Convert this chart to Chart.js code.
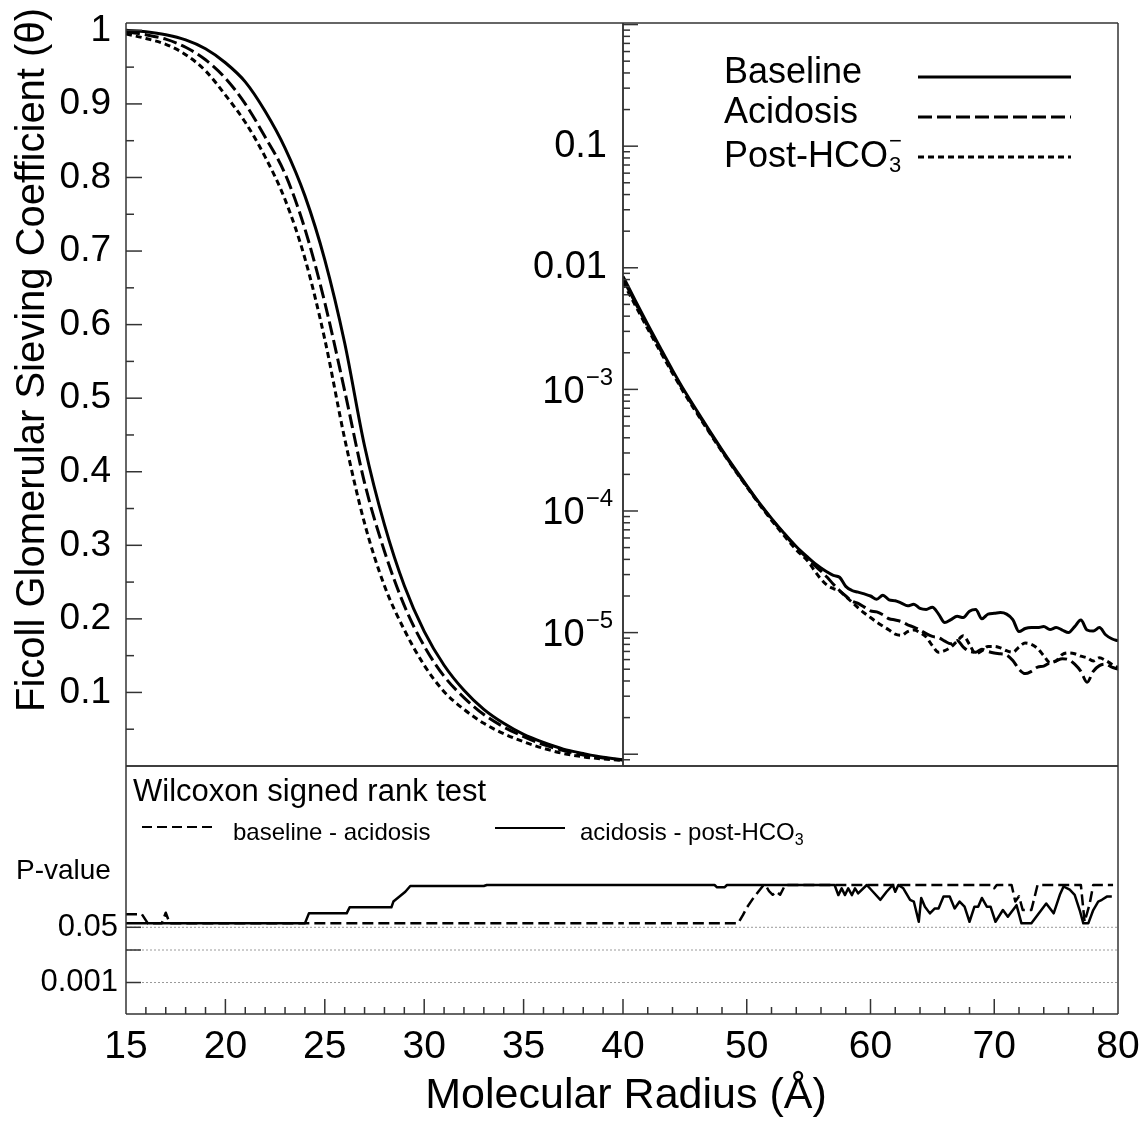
<!DOCTYPE html>
<html>
<head>
<meta charset="utf-8">
<title>Ficoll glomerular sieving coefficient</title>
<script src="https://cdn.jsdelivr.net/npm/chart.js@4.4.1/dist/chart.umd.min.js"></script>
<style>
  html, body { margin: 0; padding: 0; background: #fff; }
  #wrap { position: relative; width: 1141px; height: 1121px; }
  #wrap canvas { position: absolute; left: 0; top: 0; }
</style>
</head>
<body>
<div id="wrap">
  <canvas id="sievingLin" width="1141" height="1121"></canvas>
  <canvas id="sievingLog" width="1141" height="1121"></canvas>
  <canvas id="pLeft" width="1141" height="1121"></canvas>
  <canvas id="pRight" width="1141" height="1121"></canvas>
</div>
<script>
// ---- data ----
const radiusLeft = [15, 16, 17, 18, 19, 20, 21, 22, 23, 24, 25, 26, 27, 28, 29, 30, 31, 32, 33, 34, 35, 36, 37, 38, 39, 40];
const thetaBaselineLeft = [1.000, 0.998, 0.994, 0.987, 0.975, 0.956, 0.930, 0.890, 0.840, 0.775, 0.688, 0.575, 0.435, 0.328, 0.245, 0.183, 0.137, 0.103, 0.077, 0.058, 0.043, 0.032, 0.023, 0.017, 0.0118, 0.0085];
const thetaAcidosisLeft = [0.998, 0.994, 0.988, 0.977, 0.960, 0.935, 0.900, 0.855, 0.805, 0.730, 0.630, 0.510, 0.385, 0.292, 0.218, 0.163, 0.122, 0.093, 0.070, 0.053, 0.040, 0.029, 0.021, 0.015, 0.011, 0.0080];
const thetaPostLeft = [0.995, 0.989, 0.981, 0.967, 0.945, 0.912, 0.875, 0.828, 0.770, 0.690, 0.580, 0.445, 0.330, 0.245, 0.185, 0.137, 0.101, 0.077, 0.058, 0.044, 0.033, 0.024, 0.017, 0.0125, 0.0095, 0.0075];

const radiusRight = [40, 41, 42, 43, 44, 45, 46, 47, 48, 49, 50, 51, 52, 53, 54, 55,
  55.5, 56, 56.5, 57, 57.5, 58, 58.5, 59, 59.5, 60, 60.5, 61, 61.5, 62, 62.5, 63, 63.5, 64, 64.5, 65,
  65.5, 66, 66.5, 67, 67.5, 68, 68.5, 69, 69.5, 70, 70.5, 71, 71.5, 72, 72.5, 73, 73.5, 74, 74.5, 75,
  75.5, 76, 76.5, 77, 77.5, 78, 78.5, 79, 79.5, 80];
const thetaBaselineRight = [8.5e-3, 5.37e-3, 3.42e-3, 2.21e-3, 1.44e-3, 9.6e-4, 6.6e-4, 4.56e-4, 3.19e-4, 2.26e-4, 1.62e-4, 1.17e-4, 8.7e-5, 6.6e-5, 5.1e-5, 4.1e-5,
  3.7e-5, 3.4e-5, 3.15e-5, 2.95e-5, 2.85e-5, 2.4e-5, 2.22e-5, 2.15e-5, 2.08e-5, 2.0e-5, 1.88e-5, 2.03e-5, 1.86e-5, 1.83e-5, 1.75e-5, 1.66e-5, 1.71e-5, 1.58e-5, 1.55e-5, 1.62e-5,
  1.42e-5, 1.21e-5, 1.28e-5, 1.36e-5, 1.33e-5, 1.5e-5, 1.55e-5, 1.3e-5, 1.42e-5, 1.44e-5, 1.46e-5, 1.42e-5, 1.28e-5, 1.02e-5, 1.08e-5, 1.1e-5, 1.1e-5, 1.12e-5, 1.06e-5, 1.1e-5,
  1.05e-5, 1.0e-5, 1.12e-5, 1.27e-5, 1.05e-5, 1.03e-5, 1.1e-5, 9.6e-6, 8.9e-6, 8.55e-6];
const thetaAcidosisRight = [8.1e-3, 5.15e-3, 3.3e-3, 2.14e-3, 1.4e-3, 9.35e-4, 6.45e-4, 4.46e-4, 3.13e-4, 2.22e-4, 1.6e-4, 1.16e-4, 8.6e-5, 6.5e-5, 5.0e-5, 4.0e-5,
  3.55e-5, 3.2e-5, 2.85e-5, 2.5e-5, 2.22e-5, 2.0e-5, 1.82e-5, 1.74e-5, 1.62e-5, 1.51e-5, 1.48e-5, 1.4e-5, 1.3e-5, 1.27e-5, 1.23e-5, 1.16e-5, 1.11e-5, 1.05e-5, 9.8e-6, 9.3e-6,
  9.1e-6, 8.5e-6, 8.1e-6, 8.6e-6, 7.6e-6, 7.0e-6, 6.9e-6, 7.3e-6, 7.0e-6, 6.8e-6, 6.7e-6, 6.55e-6, 5.9e-6, 5.0e-6, 4.6e-6, 4.8e-6, 5.2e-6, 5.3e-6, 5.65e-6, 5.85e-6,
  6.1e-6, 6.0e-6, 5.5e-6, 4.8e-6, 3.9e-6, 4.8e-6, 5.35e-6, 5.5e-6, 5.2e-6, 5.0e-6];
const thetaPostRight = [7.6e-3, 4.9e-3, 3.15e-3, 2.06e-3, 1.36e-3, 9.1e-4, 6.3e-4, 4.38e-4, 3.08e-4, 2.19e-4, 1.58e-4, 1.14e-4, 8.4e-5, 6.3e-5, 4.8e-5, 3.8e-5,
  3.2e-5, 2.75e-5, 2.45e-5, 2.3e-5, 2.2e-5, 1.98e-5, 1.78e-5, 1.6e-5, 1.45e-5, 1.33e-5, 1.22e-5, 1.13e-5, 1.05e-5, 9.7e-6, 9.5e-6, 1.02e-5, 1.05e-5, 1.0e-5, 9.2e-6, 7.8e-6,
  6.9e-6, 7.1e-6, 7.6e-6, 8.5e-6, 9.4e-6, 8.0e-6, 6.7e-6, 7.1e-6, 7.7e-6, 7.7e-6, 7.5e-6, 7.1e-6, 6.9e-6, 7.6e-6, 8.2e-6, 8.0e-6, 7.4e-6, 6.45e-6, 5.67e-6, 5.85e-6,
  6.6e-6, 6.8e-6, 6.7e-6, 6.4e-6, 6.2e-6, 5.85e-6, 6.2e-6, 5.9e-6, 5.5e-6, 5.16e-6];

// Wilcoxon signed rank test p-values
const pRadiusBaseAcid = [15, 15.8, 16.1, 16.8, 17.0, 17.2, 49.3, 49.7, 50.0, 50.5, 50.9, 51.3, 51.5, 51.8, 52.1, 52.4, 52.7, 53.1,
  69.8, 70.0, 70.2, 71.4, 71.7, 72.0, 72.3, 73.0, 73.5, 77.0, 77.3, 77.7, 78.0, 79.6];
const pBaseAcid = [0.126, 0.126, 0.066, 0.066, 0.14, 0.066, 0.066, 0.12, 0.2, 0.38, 0.6, 0.93, 1, 0.65, 0.5, 0.62, 0.5, 1,
  1, 0.8, 1, 1, 0.31, 0.45, 0.17, 0.17, 1, 1, 0.074, 0.25, 1, 1];
const pRadiusAcidPost = [15, 24.0, 24.2, 26.1, 26.25, 28.35, 28.45, 28.65, 28.85, 29.05, 29.3, 33.0, 33.15, 47.4, 47.6, 48.2, 48.4,
  57.1, 57.4, 57.67, 57.94, 58.2, 58.5, 58.75, 59.0, 59.7, 60.2, 60.8, 61.3, 61.8, 62.0, 62.25, 62.65, 63.2, 63.5, 63.9, 64.1, 64.4,
  64.8, 65.2, 65.5, 65.9, 66.4, 66.8, 67.2, 67.6, 68.0, 68.4, 68.7, 69.0, 69.4, 69.7, 70.1, 70.7, 71.1, 71.8, 72.2, 73.0, 73.7, 74.2,
  74.8, 75.3, 75.6, 76.1, 76.5, 76.9, 77.2, 77.6, 78.0, 78.4, 78.7, 79.1, 79.5];
const pAcidPost = [0.066, 0.066, 0.134, 0.134, 0.206, 0.206, 0.31, 0.39, 0.49, 0.62, 0.93, 0.93, 1, 1, 0.85, 0.85, 1,
  1, 0.49, 0.79, 0.49, 0.79, 0.49, 0.79, 0.55, 1, 0.62, 0.35, 0.62, 1, 0.62, 1, 0.79, 0.35, 0.31, 0.074, 0.4, 0.215,
  0.134, 0.19, 0.19, 0.44, 0.44, 0.19, 0.31, 0.215, 0.074, 0.215, 0.215, 0.4, 0.215, 0.215, 0.074, 0.17, 0.106, 0.24, 0.066, 0.066, 0.15, 0.27,
  0.134, 0.5, 0.9, 0.72, 0.5, 0.17, 0.066, 0.066, 0.17, 0.31, 0.35, 0.44, 0.44];

// ticks
const thetaTicks = [0.1, 0.2, 0.3, 0.4, 0.5, 0.6, 0.7, 0.8, 0.9, 1];
const logLabelTicks = [0.1, 0.01];
const logPowerLabels = [-3, -4, -5];
const pLabelTicks = [0.05, 0.001];
const pGridValues = [0.05, 0.01, 0.001];
const radiusTicksLeft = [15, 20, 25, 30, 35, 40];
const radiusTicksRight = [50, 60, 70, 80];
const seriesNames = ['Baseline', 'Acidosis', 'Post-HCO'];

// ---- layout ----
const FONT = "'Liberation Sans', Arial, Helvetica, sans-serif";
Chart.defaults.font.family = FONT;
Chart.defaults.color = '#000';
const W = 1141, H = 1121;
const LEFT = 126, MID = 623, RIGHT = 1118, TOP = 23, SPLIT = 766, BOTTOM = 1014;
const DASH = [14, 5], DOT = [6, 4];

function pts(xs, ys) { return xs.map((x, i) => ({ x: x, y: ys[i] })); }

function curve(label, xs, ys, dash, width, smooth) {
  return {
    label: label, data: pts(xs, ys), borderColor: '#000', borderWidth: width,
    borderDash: dash, pointRadius: 0, fill: false, borderJoinStyle: 'round',
    cubicInterpolationMode: smooth ? 'monotone' : 'default', tension: 0
  };
}

function seg(ctx, x1, y1, x2, y2, w, dash, color) {
  ctx.save();
  ctx.strokeStyle = color || '#000';
  ctx.lineWidth = w;
  ctx.setLineDash(dash || []);
  ctx.beginPath(); ctx.moveTo(x1, y1); ctx.lineTo(x2, y2); ctx.stroke();
  ctx.restore();
}

function txt(ctx, s, x, y, size, align) {
  ctx.save();
  ctx.font = size + 'px ' + FONT;
  ctx.fillStyle = '#000';
  ctx.textAlign = align || 'left';
  ctx.textBaseline = 'alphabetic';
  ctx.fillText(s, x, y);
  const w = ctx.measureText(s).width;
  ctx.restore();
  return w;
}

function frame(ctx, a, sides) {
  const c = '#333';
  if (sides.includes('t')) seg(ctx, a.left, a.top, a.right, a.top, 1.5, null, c);
  if (sides.includes('b')) seg(ctx, a.left, a.bottom, a.right, a.bottom, 1.5, null, c);
  if (sides.includes('l')) seg(ctx, a.left, a.top, a.left, a.bottom, 1.5, null, c);
  if (sides.includes('r')) seg(ctx, a.right, a.top, a.right, a.bottom, 1.5, null, c);
}

function hTick(ctx, x, y, len) { seg(ctx, x, y, x + len, y, 1.5, null, '#333'); }
function vTick(ctx, x, y, len) { seg(ctx, x, y, x, y - len, 1.5, null, '#333'); }

// fixed axis boxes so the panels line up exactly
function fixWidth(w) {
  return s => { s.width = w; s.paddingTop = 0; s.paddingBottom = 0; s.paddingLeft = 0; s.paddingRight = 0; };
}
function fixHeight(h) {
  return s => { s.height = h; s.paddingTop = 0; s.paddingBottom = 0; s.paddingLeft = 0; s.paddingRight = 0; };
}

const hiddenGrid = { display: false, drawTicks: false };

// ---- top left: linear theta ----
const decorLin = {
  id: 'decorLin',
  afterDraw(chart) {
    const ctx = chart.ctx, a = chart.chartArea, y = chart.scales.y;
    frame(ctx, a, 'tblr');
    thetaTicks.forEach(v => hTick(ctx, a.left, y.getPixelForValue(v), 16));
    thetaTicks.forEach(v => hTick(ctx, a.left, y.getPixelForValue(v - 0.05), 8));
    ctx.save();
    ctx.translate(44, 360);
    ctx.rotate(-Math.PI / 2);
    ctx.font = '40px ' + FONT;
    ctx.fillStyle = '#000';
    ctx.textAlign = 'center';
    ctx.fillText('Ficoll Glomerular Sieving Coefficient (θ)', 0, 0);
    ctx.restore();
  }
};

new Chart(document.getElementById('sievingLin'), {
  type: 'line',
  data: {
    datasets: [
      curve(seriesNames[0], radiusLeft, thetaBaselineLeft, [], 3, true),
      curve(seriesNames[1], radiusLeft, thetaAcidosisLeft, DASH, 3, true),
      curve(seriesNames[2], radiusLeft, thetaPostLeft, DOT, 3, true)
    ]
  },
  options: {
    responsive: false, animation: false, events: [],
    layout: { padding: { left: 0, top: TOP, right: W - MID, bottom: H - SPLIT } },
    plugins: { legend: { display: false }, tooltip: { enabled: false } },
    scales: {
      x: { type: 'linear', min: 15, max: 40, display: false },
      y: {
        type: 'linear', min: 0, max: 1.01,
        afterFit: fixWidth(LEFT),
        afterBuildTicks: s => { s.ticks = thetaTicks.map(v => ({ value: v })); },
        grid: hiddenGrid, border: { display: false },
        ticks: { font: { size: 37 }, color: '#000', padding: 15, autoSkip: false, callback: v => String(v) }
      }
    }
  },
  plugins: [decorLin]
});

// ---- top right: log theta ----
const decorLog = {
  id: 'decorLog',
  afterDraw(chart) {
    const ctx = chart.ctx, a = chart.chartArea, y = chart.scales.y;
    frame(ctx, a, 'tblr');
    for (let k = 0; k >= -6; k--) {
      hTick(ctx, a.left, y.getPixelForValue(Math.pow(10, k)), 15);
      for (let m = 2; m <= 9; m++) {
        const v = m * Math.pow(10, k - 1);
        if (v >= y.min && v <= y.max) hTick(ctx, a.left, y.getPixelForValue(v), 7);
      }
    }
    logPowerLabels.forEach(e => {
      const py = y.getPixelForValue(Math.pow(10, e));
      const ew = txt(ctx, '\u2212' + Math.abs(e), a.left - 10, py - 4.5, 24, 'right');
      txt(ctx, '10', a.left - 10 - ew - 1, py + 13.5, 38, 'right');
    });
    // legend
    const textY = [83, 123, 167], lineY = [77, 117, 157];
    chart.data.datasets.forEach((ds, i) => {
      const w = txt(ctx, seriesNames[i], 724, textY[i], 36, 'left');
      if (i === 2) {
        txt(ctx, '3', 724 + w + 1, textY[i] + 5, 22, 'left');
        txt(ctx, '\u2212', 724 + w + 1, textY[i] - 19, 22, 'left');
      }
      seg(ctx, 918, lineY[i], 1071, lineY[i], 3, ds.borderDash, '#000');
    });
  }
};

new Chart(document.getElementById('sievingLog'), {
  type: 'line',
  data: {
    datasets: [
      curve(seriesNames[0], radiusRight, thetaBaselineRight, [], 3, true),
      curve(seriesNames[1], radiusRight, thetaAcidosisRight, DASH, 3, true),
      curve(seriesNames[2], radiusRight, thetaPostRight, DOT, 3, true)
    ]
  },
  options: {
    responsive: false, animation: false, events: [],
    layout: { padding: { left: 0, top: TOP, right: W - RIGHT, bottom: H - SPLIT } },
    plugins: { legend: { display: false }, tooltip: { enabled: false } },
    scales: {
      x: { type: 'linear', min: 40, max: 80, display: false },
      y: {
        type: 'logarithmic', min: 8.0e-7, max: 1.03,
        afterFit: fixWidth(MID),
        afterBuildTicks: s => { s.ticks = logLabelTicks.map(v => ({ value: v })); },
        grid: hiddenGrid, border: { display: false },
        ticks: { font: { size: 38 }, color: '#000', padding: 16, autoSkip: false, callback: v => String(v) }
      }
    }
  },
  plugins: [decorLog]
});

// ---- bottom: p-values, split at 40 A like the panels above ----
function pDatasets() {
  return [
    curve('baseline - acidosis', pRadiusBaseAcid, pBaseAcid, [11, 5], 2.5, false),
    curve('acidosis - post-HCO3', pRadiusAcidPost, pAcidPost, [], 2.5, false)
  ];
}

function pGrid(chart) {
  const ctx = chart.ctx, a = chart.chartArea, y = chart.scales.y;
  pGridValues.forEach(v => {
    const py = y.getPixelForValue(v);
    seg(ctx, a.left, py, a.right, py, 1, [2, 2], '#9a9a9a');
  });
}

const decorPLeft = {
  id: 'decorPLeft',
  beforeDatasetsDraw: pGrid,
  afterDraw(chart) {
    const ctx = chart.ctx, a = chart.chartArea, x = chart.scales.x, y = chart.scales.y;
    frame(ctx, a, 'tbl');
    pGridValues.forEach(v => hTick(ctx, a.left, y.getPixelForValue(v), 15));
    for (let r = 16; r < 40; r++) vTick(ctx, x.getPixelForValue(r), a.bottom, r % 5 === 0 ? 15 : 7);
    txt(ctx, 'Wilcoxon signed rank test', 133, 801, 31);
    seg(ctx, 142, 827, 212, 827, 2, [10, 5]);
    txt(ctx, 'baseline - acidosis', 233, 840, 24);
    seg(ctx, 495, 828, 565, 828, 2, []);
    const w = txt(ctx, 'acidosis - post-HCO', 580, 840, 24);
    txt(ctx, '3', 580 + w, 845, 16);
    txt(ctx, 'P-value', 16, 879, 28);
    txt(ctx, 'Molecular Radius (\u00C5)', 626, 1108, 43, 'center');
  }
};

const decorPRight = {
  id: 'decorPRight',
  beforeDatasetsDraw: pGrid,
  afterDraw(chart) {
    const ctx = chart.ctx, a = chart.chartArea, x = chart.scales.x;
    frame(ctx, a, 'tbr');
    for (let r = 40; r < 80; r += 2) vTick(ctx, x.getPixelForValue(r), a.bottom, r % 10 === 0 ? 15 : 7);
  }
};

const pAxis = (display) => ({
  type: 'logarithmic', min: 1.074e-4, max: 4586, display: display,
  afterFit: fixWidth(display ? LEFT : 0),
  afterBuildTicks: s => { s.ticks = pLabelTicks.map(v => ({ value: v })); },
  grid: hiddenGrid, border: { display: false },
  ticks: { font: { size: 31 }, color: '#000', padding: 8, autoSkip: false, callback: v => String(v) }
});

const rAxis = (min, max, ticks) => ({
  type: 'linear', min: min, max: max,
  afterFit: fixHeight(H - BOTTOM),
  afterBuildTicks: s => { s.ticks = ticks.map(v => ({ value: v })); },
  grid: hiddenGrid, border: { display: false },
  ticks: { font: { size: 39 }, color: '#000', padding: 10, autoSkip: false, maxRotation: 0, callback: v => String(v) }
});

new Chart(document.getElementById('pLeft'), {
  type: 'line',
  data: { datasets: pDatasets() },
  options: {
    responsive: false, animation: false, events: [],
    layout: { padding: { left: 0, top: SPLIT, right: W - MID, bottom: 0 } },
    plugins: { legend: { display: false }, tooltip: { enabled: false } },
    scales: { x: rAxis(15, 40, radiusTicksLeft), y: pAxis(true) }
  },
  plugins: [decorPLeft]
});

new Chart(document.getElementById('pRight'), {
  type: 'line',
  data: { datasets: pDatasets() },
  options: {
    responsive: false, animation: false, events: [],
    layout: { padding: { left: MID, top: SPLIT, right: W - RIGHT, bottom: 0 } },
    plugins: { legend: { display: false }, tooltip: { enabled: false } },
    scales: { x: rAxis(40, 80, radiusTicksRight), y: pAxis(false) }
  },
  plugins: [decorPRight]
});
</script>
</body>
</html>
